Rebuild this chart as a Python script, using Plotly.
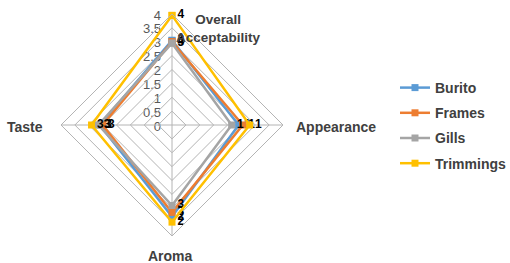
import plotly.graph_objects as go

categories = ["Overall Acceptability", "Appearance", "Aroma", "Taste"]
series_names = ["Burito", "Frames", "Gills", "Trimmings"]
burito = [3.05, 2.4, 3.3, 2.6]
frames = [3.0, 2.55, 3.15, 2.5]
gills = [2.95, 2.15, 2.9, 2.65]
trimmings = [3.95, 2.8, 3.5, 2.9]
burito_labels = ["3", "1", "2", "3"]
frames_labels = ["4", "1", "3", "3"]
gills_labels = ["3", "1", "3", "3"]
trimmings_labels = ["4", "1", "2", "3"]
colors = ["#5B9BD5", "#ED7D31", "#A5A5A5", "#FFC000"]
radial_ticks = [0, 0.5, 1, 1.5, 2, 2.5, 3, 3.5, 4]
radial_tick_text = ["0", "0.5", "1", "1.5", "2", "2.5", "3", "3.5", "4"]

W, H = 510, 263


def px(x):
    return x / W


def py(y):
    return 1 - y / H


fig = go.Figure()
for name, vals, labs, col in zip(series_names, [burito, frames, gills, trimmings],
                                 [burito_labels, frames_labels, gills_labels, trimmings_labels], colors):
    fig.add_trace(go.Scatterpolar(
        r=vals + vals[:1], theta=categories + categories[:1], name=name, legendgroup=name,
        mode="lines+markers+text", text=labs + [""], textposition="middle right",
        textfont=dict(family="Liberation Sans", size=12, color="#000000", weight="bold"),
        line=dict(color=col, width=2.5), marker=dict(symbol="square", size=7, color=col),
    ))

# invisible cartesian trace to carry the radial tick-label axis
fig.add_trace(go.Scatter(x=[None], y=[None], showlegend=False, hoverinfo="skip"))

fig.update_layout(
    width=W, height=H, margin=dict(l=0, r=0, t=0, b=0, autoexpand=False),
    paper_bgcolor="white", plot_bgcolor="rgba(0,0,0,0)",
    font=dict(family="Liberation Sans", color="#595959", size=13),
    polar=dict(
        domain=dict(x=[px(61), px(283)], y=[py(236), py(14)]),
        gridshape="linear", bgcolor="rgba(0,0,0,0)",
        radialaxis=dict(range=[0, 4], tickvals=radial_ticks, angle=90,
                        showline=False, gridcolor="#b4b4b4", gridwidth=1, ticks="",
                        showticklabels=False),
        angularaxis=dict(rotation=90, direction="clockwise", showticklabels=False,
                         gridcolor="#b4b4b4", linecolor="#b4b4b4", ticks=""),
    ),
    xaxis=dict(visible=False, domain=[px(61), px(283)], range=[0, 1]),
    yaxis=dict(domain=[py(126), py(15)], range=[0, 4], anchor="free", position=px(172),
               side="left", tickvals=radial_ticks, ticktext=radial_tick_text,
               showgrid=False, zeroline=False, showline=False, ticks="", automargin=False,
               ticklabelstandoff=11, tickfont=dict(size=13, color="#595959")),
    legend=dict(x=px(395), y=py(72), xanchor="left", yanchor="top",
                font=dict(family="Liberation Sans", size=14, color="#404040", weight="bold"),
                tracegroupgap=4, itemwidth=30, bgcolor="rgba(0,0,0,0)"),
    showlegend=True,
)

ann = [
    ("Overall<br>Acceptability", 218, 28, 13.5),
    ("Appearance", 336, 127, 14),
    ("Aroma", 170, 256, 14),
    ("Taste", 25, 127, 14),
]
for t, x, y, s in ann:
    fig.add_annotation(text=t, x=px(x), y=py(y), xref="paper", yref="paper",
                       showarrow=False, font=dict(family="Liberation Sans", size=s, color="#404040", weight="bold"),
                       align="center", xanchor="center", yanchor="middle")

fig.write_html("out.html", config={"displayModeBar": False},
               post_script="document.body.style.margin='0';document.body.style.overflow='hidden';")
